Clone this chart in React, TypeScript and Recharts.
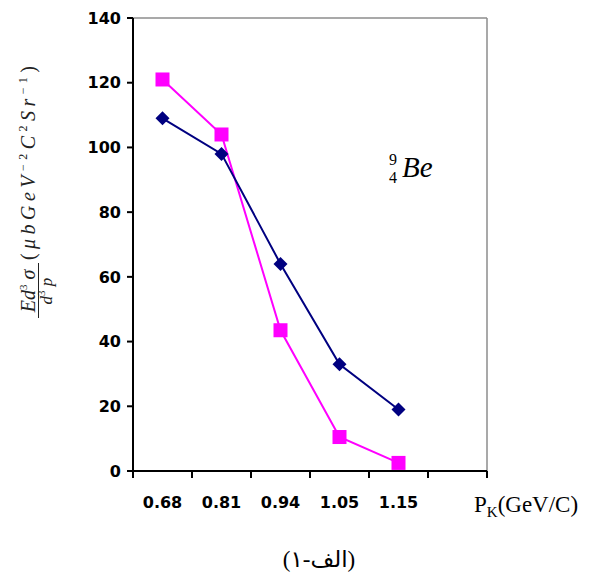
import React from "react";
import { LineChart, Line, XAxis, YAxis, ReferenceLine } from "recharts";

// momentum bins (GeV/C)
const categories = ["0.68", "0.81", "0.94", "1.05", "1.15"];
const diamondSeries = [109, 98, 64, 33, 19];
const squareSeries = [121, 104, 43.5, 10.5, 2.5];
const yTicks = [0, 20, 40, 60, 80, 100, 120, 140];
const binEdges = [0, 1, 2, 3, 4, 5, 6];

const rows = categories.map((c, i) => ({
  pos: i + 0.5,
  label: c,
  navy: diamondSeries[i],
  pink: squareSeries[i],
}));
const labelTicks = rows.map((r) => r.pos);

const NAVY = "#000080";
const PINK = "#FF00FF";
const serif = "'Liberation Serif', 'Times New Roman', serif";
const bold = { fontFamily: "'DejaVu Sans', sans-serif", fontWeight: 700, fontSize: 16, fill: "#000" };

function DiamondDot(props: any) {
  const { cx, cy, index } = props;
  if (cx == null || cy == null) return null;
  const r = 7;
  return (
    <polygon
      key={`d${index}`}
      points={`${cx},${cy - r} ${cx + r},${cy} ${cx},${cy + r} ${cx - r},${cy}`}
      fill={NAVY}
    />
  );
}

function SquareDot(props: any) {
  const { cx, cy, index } = props;
  if (cx == null || cy == null) return null;
  return <rect key={`s${index}`} x={cx - 7} y={cy - 7} width={14} height={14} fill={PINK} />;
}

export default function App() {
  return (
    <div style={{ position: "absolute", left: 0, top: 0, width: 593, height: 577, background: "#fff" }}>
      <LineChart width={593} height={577} data={rows} margin={{ top: 18, right: 106, left: 0, bottom: 45 }}>
        <XAxis
          xAxisId="a"
          type="number"
          dataKey="pos"
          domain={[0, 6]}
          ticks={binEdges}
          interval={0}
          tickFormatter={() => ""}
          tickSize={7}
          height={1}
          axisLine={{ stroke: "#000", strokeWidth: 2 }}
          tickLine={{ stroke: "#000", strokeWidth: 2 }}
        />
        <XAxis
          xAxisId="b"
          type="number"
          dataKey="pos"
          domain={[0, 6]}
          ticks={labelTicks}
          interval={0}
          tickFormatter={(v: number) => categories[Math.floor(v)]}
          tickLine={false}
          axisLine={false}
          tickSize={0}
          tickMargin={25}
          height={60}
          tick={bold}
        />
        <YAxis
          type="number"
          domain={[0, 140]}
          ticks={yTicks}
          interval={0}
          width={133}
          tickSize={6}
          tickMargin={6}
          tick={bold}
          axisLine={{ stroke: "#000", strokeWidth: 2 }}
          tickLine={{ stroke: "#000", strokeWidth: 2 }}
        />
        <ReferenceLine xAxisId="a" y={140} stroke="#8c8c8c" strokeWidth={1.5} />
        <ReferenceLine xAxisId="a" x={6} stroke="#8c8c8c" strokeWidth={1.5} />
        <Line
          xAxisId="a"
          dataKey="pink"
          stroke={PINK}
          strokeWidth={2}
          dot={SquareDot}
          activeDot={false}
          isAnimationActive={false}
        />
        <Line
          xAxisId="a"
          dataKey="navy"
          stroke={NAVY}
          strokeWidth={2}
          dot={DiamondDot}
          activeDot={false}
          isAnimationActive={false}
        />
      </LineChart>

      <svg width={593} height={577} style={{ position: "absolute", left: 0, top: 0, pointerEvents: "none" }}>
        {/* rotated y-axis title */}
        <g transform="translate(0,318) rotate(-90)" fill="#222" fontFamily={serif} fontStyle="italic">
          <text x={27} y={35} textAnchor="middle" fontSize={20}>
            Ed<tspan dy={-8} fontSize={11} fontStyle="normal">3</tspan>
            <tspan dy={8}> σ</tspan>
          </text>
          <line x1={0} x2={55} y1={38.5} y2={38.5} stroke="#222" strokeWidth={1} />
          <text x={27} y={52} textAnchor="middle" fontSize={17}>
            d<tspan dy={-7} fontSize={11} fontStyle="normal">3</tspan>
            <tspan dy={7}> p</tspan>
          </text>
          <text x={58} y={35} fontSize={20} textLength={194} lengthAdjust="spacing">
            <tspan fontStyle="normal">(</tspan>μbGeV
            <tspan dy={-8} fontSize={12} fontStyle="normal">−2</tspan>
            <tspan dy={8}>C</tspan>
            <tspan dy={-8} fontSize={12} fontStyle="normal">2</tspan>
            <tspan dy={8}>Sr</tspan>
            <tspan dy={-8} fontSize={12} fontStyle="normal">−1</tspan>
            <tspan dy={8} fontStyle="normal">)</tspan>
          </text>
        </g>

        {/* nucleus label */}
        <text x={397} y={165} textAnchor="end" fontFamily={serif} fontSize={16}>9</text>
        <text x={397} y={183} textAnchor="end" fontFamily={serif} fontSize={16}>4</text>
        <text x={402} y={177} fontFamily={serif} fontStyle="italic" fontSize={29}>Be</text>

        {/* x-axis title */}
        <text x={474} y={512} fontFamily={serif} fontSize={23}>
          P<tspan dy={5} fontSize={15}>K</tspan>
          <tspan dy={-5}>(GeV/C)</tspan>
        </text>
      </svg>

      {/* caption */}
      <div
        style={{
          position: "absolute",
          left: 219,
          top: 548,
          width: 200,
          textAlign: "center",
          fontFamily: `${serif}, 'DejaVu Sans'`,
          fontSize: 23,
          lineHeight: "23px",
          direction: "ltr",
          unicodeBidi: "bidi-override",
        }}
      >
        (۱-<span style={{ direction: "rtl", unicodeBidi: "isolate" }}>الف</span>)
      </div>
    </div>
  );
}
